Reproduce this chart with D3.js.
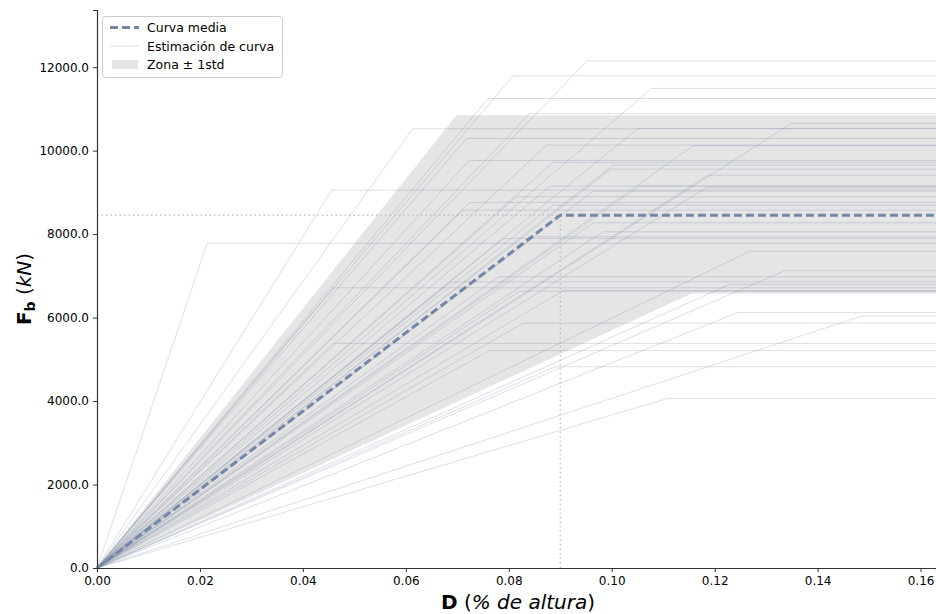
<!DOCTYPE html>
<html>
<head>
<meta charset="utf-8">
<script src="https://cdn.jsdelivr.net/npm/d3@7"></script>
<style>
  body { margin: 0; background: #fff; }
  svg { font-family: "DejaVu Sans", sans-serif; }
</style>
</head>
<body>
<div id="chart"></div>
<script>
// curvas bilineales estimadas: desplazamiento de fluencia (% altura) y fuerza (kN)
const yieldD = [0.0214, 0.0456, 0.0613, 0.0808, 0.0952, 0.0760, 0.0841, 0.1077, 0.1349, 0.1051,
                0.0718, 0.0873, 0.1158, 0.0723, 0.0886, 0.1003, 0.1187, 0.0880, 0.1054, 0.1184,
                0.0964, 0.0815, 0.0724, 0.0886, 0.0964, 0.0983, 0.0850, 0.1268, 0.1336, 0.0780,
                0.0689, 0.1229, 0.0459, 0.0821, 0.1245, 0.1485, 0.0828, 0.0459, 0.0763, 0.0890,
                0.1109, 0.0998, 0.0711, 0.0790, 0.0905];
const yieldF = [7780, 9054, 10525, 11792, 12150, 11250, 10890, 11490, 10652, 10532,
                10292, 10132, 10116, 9765, 9718, 9653, 9413, 9150, 9150, 9110,
                9030, 8894, 8760, 8695, 8271, 8055, 7936, 7590, 7121, 6977,
                6858, 6795, 6714, 6635, 6120, 6036, 5868, 5382, 5210, 4822,
                4065, 9557, 8575, 7897, 6642];

// curva media
const meanD = [0, 0.09];
const meanF = [0, 8455];

// zona ± 1std
const stdUpperD = [0, 0.0698];
const stdUpperF = [0, 10850];
const stdLowerD = [0, 0.1155];
const stdLowerF = [0, 6580];

const xTicks = [0, 0.02, 0.04, 0.06, 0.08, 0.10, 0.12, 0.14, 0.16];
const yTicks = [0, 2000, 4000, 6000, 8000, 10000, 12000];

const width = 936, height = 614;
const xMax = 0.163, yMax = 13370;

let x = d3.scaleLinear().domain([0, xMax]).range([97, 936]);
let y = d3.scaleLinear().domain([0, yMax]).range([568, 10]);

let svg = d3.select("#chart").append("svg")
    .attr("width", width)
    .attr("height", height);

let line = d3.line().x(d => x(d[0])).y(d => y(d[1]));

// zona std
let upper = stdUpperD.map((d, i) => [d, stdUpperF[i]]);
upper.push([xMax, stdUpperF[stdUpperF.length - 1]]);
let lower = stdLowerD.map((d, i) => [d, stdLowerF[i]]);
lower.push([xMax, stdLowerF[stdLowerF.length - 1]]);
svg.append("path")
    .attr("d", line(upper.concat(lower.slice().reverse())) + "Z")
    .attr("fill", "#e5e5e5");

// curvas individuales
let curves = svg.append("g");
yieldD.forEach((d, i) => {
    curves.append("path")
        .datum([[0, 0], [d, yieldF[i]], [xMax, yieldF[i]]])
        .attr("d", line)
        .attr("fill", "none")
        .attr("stroke", "#7a8aa8")
        .attr("stroke-opacity", 0.3)
        .attr("stroke-width", 0.9);
});

// líneas de referencia
let mD = meanD[1], mF = meanF[1];
svg.append("path")
    .datum([[mD, 0], [mD, mF]])
    .attr("d", line)
    .attr("stroke", "#bbbbbb").attr("stroke-width", 1.2)
    .attr("stroke-dasharray", "1.5,3").attr("fill", "none");
svg.append("path")
    .datum([[0, mF], [mD, mF]])
    .attr("d", line)
    .attr("stroke", "#bbbbbb").attr("stroke-width", 1.2)
    .attr("stroke-dasharray", "1.5,3").attr("fill", "none");

// curva media
let meanPts = meanD.map((d, i) => [d, meanF[i]]);
meanPts.push([xMax, meanF[meanF.length - 1]]);
svg.append("path")
    .datum(meanPts)
    .attr("d", line)
    .attr("fill", "none")
    .attr("stroke", "#7585a4")
    .attr("stroke-width", 3)
    .attr("stroke-dasharray", "8,4");

// ejes
let xAxis = svg.append("g")
    .attr("transform", "translate(0," + y(0) + ")")
    .call(d3.axisBottom(x).tickValues(xTicks).tickFormat(d3.format(".2f")).tickSizeOuter(0).tickSize(4).tickPadding(4));
let yAxis = svg.append("g")
    .attr("transform", "translate(" + x(0) + ",0)")
    .call(d3.axisLeft(y).tickValues(yTicks).tickFormat(d3.format(".1f")).tickSizeOuter(0).tickSize(4).tickPadding(4));
[xAxis, yAxis].forEach(a => {
    a.selectAll("text").attr("font-size", 12).attr("fill", "#000").attr("font-family", "DejaVu Sans");
    a.selectAll("line").attr("stroke", "#333").attr("stroke-width", 1);
    a.select(".domain").attr("stroke", "#333").attr("stroke-width", 1.2);
});

// etiquetas
let xl = svg.append("text")
    .attr("x", 518).attr("y", 609)
    .attr("text-anchor", "middle")
    .attr("font-size", 20);
xl.append("tspan").attr("font-weight", "bold").text("D");
xl.append("tspan").text(" (");
xl.append("tspan").attr("font-style", "italic").text("% de altura");
xl.append("tspan").text(")");

let yl = svg.append("text")
    .attr("transform", "translate(31,289)rotate(-90)")
    .attr("text-anchor", "middle")
    .attr("font-size", 20);
yl.append("tspan").attr("font-weight", "bold").text("F");
yl.append("tspan").attr("font-weight", "bold").attr("font-size", 14).attr("dy", 4).text("b");
yl.append("tspan").attr("dy", -4).text(" (");
yl.append("tspan").attr("font-style", "italic").text("kN");
yl.append("tspan").text(")");

// leyenda
let leg = svg.append("g");
leg.append("rect")
    .attr("x", 102.5).attr("y", 16.5).attr("width", 180).attr("height", 61)
    .attr("rx", 3).attr("fill", "#fff").attr("fill-opacity", 0.8)
    .attr("stroke", "#cccccc").attr("stroke-width", 1);
leg.append("line")
    .attr("x1", 110).attr("x2", 139).attr("y1", 27.5).attr("y2", 27.5)
    .attr("stroke", "#7585a4").attr("stroke-width", 3).attr("stroke-dasharray", "8,4");
leg.append("line")
    .attr("x1", 110).attr("x2", 139).attr("y1", 46).attr("y2", 46)
    .attr("stroke", "#7a8aa8").attr("stroke-opacity", 0.3).attr("stroke-width", 0.9);
leg.append("rect")
    .attr("x", 112).attr("y", 60).attr("width", 26).attr("height", 9)
    .attr("fill", "#e5e5e5");
const legText = ["Curva media", "Estimación de curva", "Zona ± 1std"];
legText.forEach((t, i) => {
    leg.append("text")
        .attr("x", 147).attr("y", 32 + i * 18.5)
        .attr("font-size", 12.5)
        .text(t);
});
</script>
</body>
</html>
